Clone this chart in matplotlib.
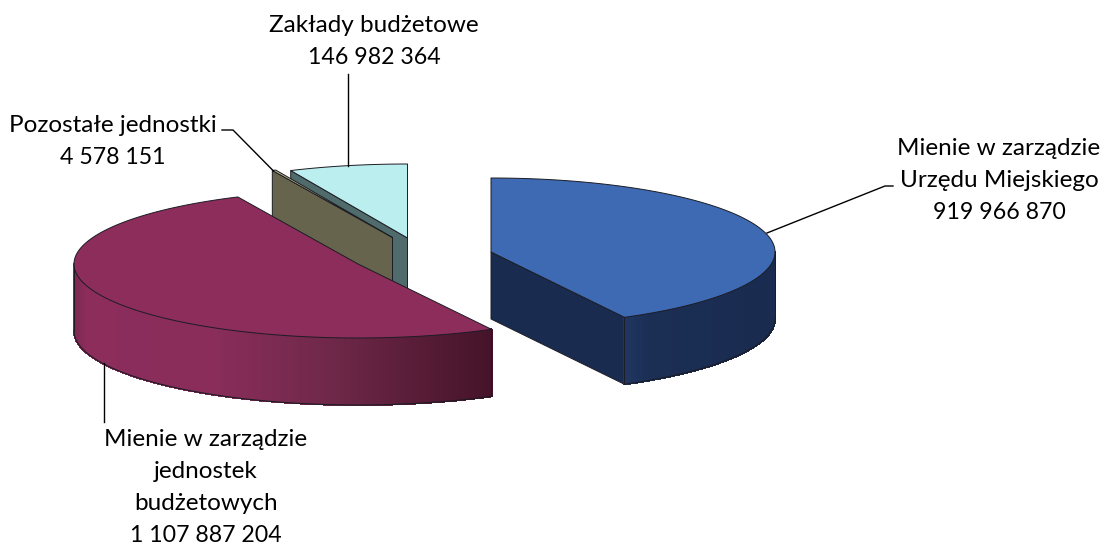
import numpy as np
import matplotlib
matplotlib.use("Agg")
import matplotlib.pyplot as plt
from matplotlib.collections import PolyCollection
from matplotlib.colors import to_rgb
from matplotlib.patches import Polygon

plt.rcParams['font.family'] = ['Lato', 'DejaVu Sans']

# data
categories = ["Mienie w zarządzie\nUrzędu Miejskiego",
              "Mienie w zarządzie\njednostek\nbudżetowych",
              "Pozostałe jednostki",
              "Zakłady budżetowe"]
values = [919966870, 1107887204, 4578151, 146982364]
value_labels = ["919 966 870", "1 107 887 204", "4 578 151", "146 982 364"]

# style and layout (pixel space)
W, H = 1106, 547
RX, RY, DEPTH = 284, 74, 67
centers = [(491, 252), (358, 264), (392.5, 237.5), (407.5, 238)]
top_colors = ["#3d6ab3", "#8c2d5c", "#b8b68c", "#bbeeee"]
cut_colors = ["#192b4f", "#451329", "#66644c", "#4f6b6c"]
wall_stops = [[(625, "#1f3660"), (650, "#1b2e54"), (775, "#192b4f")],
              [(74, "#7d2852"), (85, "#8c2d5c"), (210, "#8a2d5b"), (330, "#6f2849"), (491, "#451329")],
              [(0, "#66644c"), (2000, "#66644c")],
              [(0, "#4f6b6c"), (2000, "#4f6b6c")]]
EDGE = "#1c1c24"
label_pos = [(999, 155), (206, 446.5), (113, 132), (374, 32)]
LINE_STEP = 32
leaders = [[(767, 233), (885, 186), (893, 186)],
           [(104.3, 363), (104.3, 422)],
           [(222, 130), (233, 130), (273.5, 171)],
           [(348, 74), (348, 166)]]

fig = plt.figure(figsize=(W / 100, H / 100), dpi=100)
ax = fig.add_axes([0, 0, 1, 1])
ax.set_xlim(0, W)
ax.set_ylim(H, 0)
ax.axis("off")


def pt(c, deg, drop=0.0):
    a = np.radians(deg)
    return np.column_stack([c[0] + RX * np.sin(a), c[1] - RY * np.cos(a) + drop])


def grad(x, stops):
    xs = [s[0] for s in stops]
    cs = np.array([to_rgb(s[1]) for s in stops])
    return np.column_stack([np.interp(x, xs, cs[:, i]) for i in range(3)])


angles = np.concatenate([[0], np.cumsum(values) / np.sum(values) * 360])
for i in [3, 2, 1, 0]:
    c = centers[i]
    a0, a1 = angles[i], angles[i + 1]
    arc = np.linspace(a0, a1, max(int((a1 - a0) * 12), 4))
    top = pt(c, arc)
    apex = np.array([c])
    base = i * -10 + 40
    # flat cut face
    if i in (2, 3) or i == 0:
        o = pt(c, [a0 if i else a1])
        ax.add_patch(Polygon(np.vstack([o, apex, apex + [0, DEPTH], o + [0, DEPTH]]),
                             fc=cut_colors[i], ec=EDGE, lw=0.7, zorder=base))
    # curved outer wall
    vis = arc[(arc >= 90) & (arc <= 270)]
    if vis.size > 1:
        up = pt(c, vis)
        lo = up + [0, DEPTH]
        quads = [np.vstack([up[k], up[k + 1], lo[k + 1], lo[k]]) for k in range(len(vis) - 1)]
        mids = (up[:-1, 0] + up[1:, 0]) / 2
        cols = grad(mids, wall_stops[i])
        ax.add_collection(PolyCollection(quads, facecolors=cols, edgecolors=cols, lw=0.8,
                                         antialiaseds=False, zorder=base + 1))
        ax.plot(*np.vstack([up[0], lo[0]]).T, color=EDGE, lw=0.7, zorder=base + 2)
        ax.plot(*np.vstack([up[-1], lo[-1]]).T, color=EDGE, lw=0.7, zorder=base + 2)
        ax.plot(*lo.T, color=EDGE, lw=0.8, zorder=base + 2)
    # top face
    ax.add_patch(Polygon(np.vstack([apex, top]), fc=top_colors[i], ec=EDGE, lw=0.7,
                         joinstyle="round", zorder=base + 3))

for pts in leaders:
    xs, ys = zip(*pts)
    ax.plot(xs, ys, color="black", lw=1.0, zorder=60)

for (x, y), cat, val in zip(label_pos, categories, value_labels):
    lines = cat.split("\n")
    for j, line in enumerate(lines):
        ax.text(x, y + j * LINE_STEP, line, ha="center", va="baseline",
                fontsize=17.5, color="black", zorder=70)
    ax.text(x, y + len(lines) * LINE_STEP, val, ha="center", va="baseline",
            fontsize=16.7, color="black", zorder=70)

fig.savefig("out.png", dpi=100)
